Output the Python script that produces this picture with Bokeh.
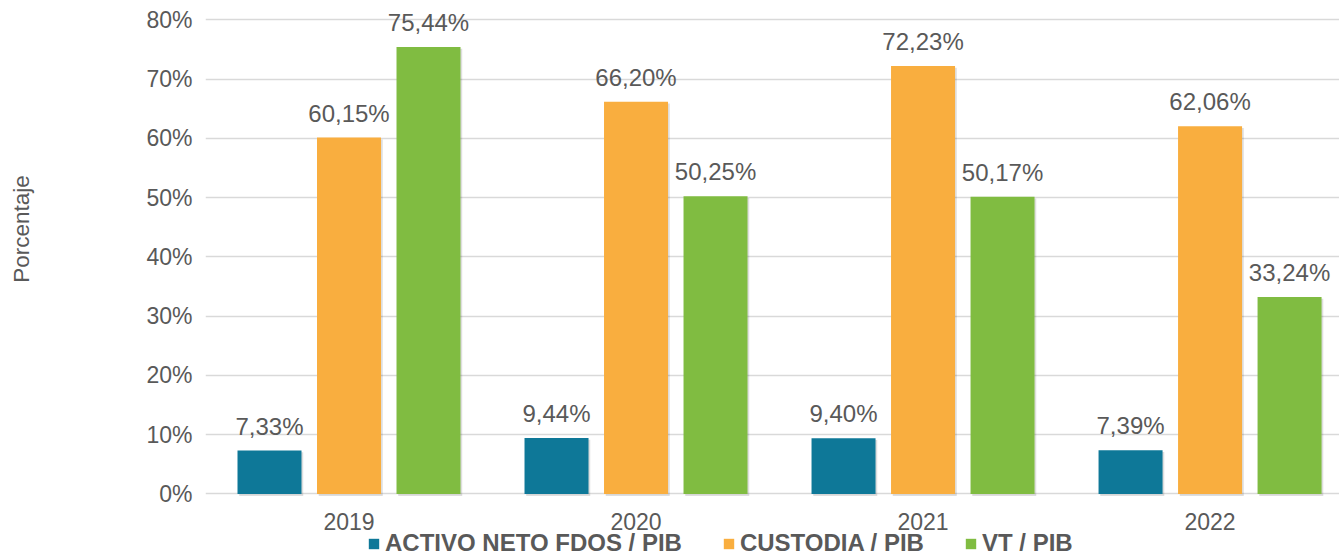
from bokeh.plotting import figure
from bokeh.models import (ColumnDataSource, Range1d, FixedTicker, Legend, LegendItem, LabelSet)
from bokeh.core.properties import value
from bokeh.embed import file_html
from bokeh.resources import INLINE

# ---- data ----
years = ["2019", "2020", "2021", "2022"]
series_names = ["ACTIVO NETO FDOS / PIB", "CUSTODIA / PIB", "VT / PIB"]
activo = [7.33, 9.44, 9.40, 7.39]
custodia = [60.15, 66.20, 72.23, 62.06]
vt = [75.44, 50.25, 50.17, 33.24]
y_ticks = [0, 10, 20, 30, 40, 50, 60, 70, 80]

colors = ["#0E7898", "#F9AE3F", "#80BC41"]
FONT = "Liberation Sans"
TXT = "#595959"

x_pos = [i + 0.5 for i in range(len(years))]
offsets = [-0.277, 0.0, 0.277]
bar_w = 0.223

p = figure(width=1339, height=557, output_backend="svg", toolbar_location=None,
           x_range=Range1d(0, 3.951), y_range=Range1d(-10.72, 83.29),
           min_border_left=205, min_border_right=0, min_border_top=0,
           min_border_bottom=0)
p.outline_line_color = None
p.background_fill_color = "white"
p.border_fill_color = "white"

p.ygrid.ticker = FixedTicker(ticks=y_ticks)
p.ygrid.grid_line_color = "#d9d9d9"
p.ygrid.grid_line_width = 1.5
p.xgrid.grid_line_color = None

renderers = []
for vals, off, col, name in zip([activo, custodia, vt], offsets, colors, series_names):
    xs = [xp + off for xp in x_pos]
    src = ColumnDataSource(dict(
        x=xs,
        top=vals,
        lab=[f"{v:.2f}".replace(".", ",") + "%" for v in vals],
    ))
    # soft drop shadow
    sh = ColumnDataSource(dict(x=[v + 0.006 for v in xs], top=[v - 0.3 for v in vals]))
    p.vbar(x="x", top="top", bottom=-0.35, width=bar_w, source=sh,
           fill_color="black", fill_alpha=0.13, line_color=None)
    r = p.vbar(x="x", top="top", width=bar_w, source=src, fill_color=col,
               line_color=None)
    renderers.append(r)
    p.add_layout(LabelSet(x="x", y="top", text="lab", source=src, y_offset=16,
                          text_align="center", text_baseline="alphabetic",
                          text_font=value(FONT), text_font_size="24px",
                          text_color=TXT))

# category labels under the zero line
cat_src = ColumnDataSource(dict(x=x_pos, y=[0] * len(years), t=years))
p.add_layout(LabelSet(x="x", y="y", text="t", source=cat_src, y_offset=-28,
                      text_align="center", text_baseline="middle",
                      text_font=value(FONT), text_font_size="23px", text_color=TXT))

p.xaxis.visible = False

ax = p.yaxis
ax.ticker = FixedTicker(ticks=y_ticks)
ax.major_label_overrides = {t: f"{t}%" for t in y_ticks}
ax.axis_line_color = None
ax.major_tick_line_color = None
ax.minor_tick_line_color = None
ax.major_tick_out = 0
ax.major_tick_in = 0
ax.major_label_text_font = FONT
ax.major_label_text_font_size = "23px"
ax.major_label_text_color = TXT
ax.major_label_standoff = 13
ax.axis_label = "\u00a0" * 16 + "Porcentaje"
ax.axis_label_text_font = FONT
ax.axis_label_text_font_size = "22.5px"
ax.axis_label_text_font_style = "normal"
ax.axis_label_text_color = TXT
ax.axis_label_standoff = 109

legend = Legend(
    items=[LegendItem(label=n, renderers=[r]) for n, r in zip(series_names, renderers)],
    orientation="horizontal", location=(162, 0),
    label_text_font=FONT, label_text_font_size="24px", label_text_font_style="bold",
    label_text_color=TXT, glyph_width=13, glyph_height=13, label_standoff=5,
    spacing=40, padding=0, margin=0, border_line_color=None,
    background_fill_alpha=0, label_height=22,
)
p.add_layout(legend)

open("out.html", "w").write(file_html(p, INLINE))
